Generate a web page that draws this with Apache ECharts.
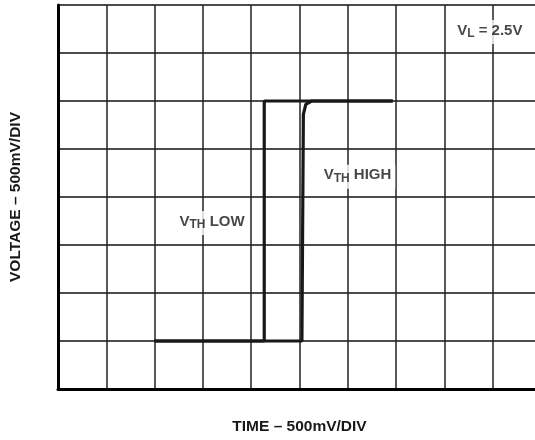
<!DOCTYPE html>
<html>
<head>
<meta charset="utf-8">
<script src="https://cdn.jsdelivr.net/npm/echarts@6/dist/echarts.min.js"></script>
<style>html,body{margin:0;padding:0;background:#fff;}#c{width:535px;height:440px;}</style>
</head>
<body>
<div id="c"></div>
<script>
// Time axis in divisions (0..10), voltage in divisions (0..8)
var xTicks = [0, 10, 1];
var yTicks = [0, 8, 1];
// V_TH LOW trace
var lowTime = [2, 4.27, 4.27, 6.93];
var lowVolt = [1, 1, 6, 6];
// V_TH HIGH trace
var highTime = [2, 5.05, 5.08, 5.13, 5.25, 6.93];
var highVolt = [1, 1, 5.72, 5.93, 6, 6];
// annotation labels
var noteText = ['VL', 'VTH HIGH', 'VTH LOW'];
var noteX = [8.94, 6.2, 3.19];
var noteY = [7.44, 4.42, 3.46];

var FONT = '"Liberation Sans", Arial, sans-serif';
var INK = '#1a1718';

function zip(a, b) { return a.map(function (v, i) { return [v, b[i]]; }); }

var richText = {
  m: { fontFamily: FONT, fontWeight: 'bold', fontSize: 15, color: INK, lineHeight: 18, verticalAlign: 'top' },
  s: { fontFamily: FONT, fontWeight: 'bold', fontSize: 12, color: INK, lineHeight: 18, verticalAlign: 'top', padding: [5, 0, 0, 0] }
};
var formatted = ['{m|V}{s|L}{m| = 2.5V}', '{m|V}{s|TH}{m| HIGH}', '{m|V}{s|TH}{m| LOW}'];

var notes = noteText.map(function (t, i) {
  return { value: [noteX[i], noteY[i]], label: { formatter: formatted[i] } };
});

var chart = echarts.init(document.getElementById('c'), null, { renderer: 'canvas' });
chart.setOption({
  animation: false,
  backgroundColor: '#fff',
  grid: { left: 58, top: 5, width: 483, height: 384, containLabel: false, outerBoundsMode: 'none' },
  xAxis: {
    type: 'value', min: xTicks[0], max: xTicks[1], interval: xTicks[2],
    name: 'TIME – 500mV/DIV', nameLocation: 'middle', nameGap: 30,
    nameTextStyle: { fontFamily: FONT, fontWeight: 'bold', fontSize: 15.5, color: INK },
    axisLine: { show: true, onZero: false, lineStyle: { color: '#000', width: 3 } },
    axisTick: { show: false }, axisLabel: { show: false },
    splitLine: { show: true, lineStyle: { color: '#222', width: 1.5 } }
  },
  yAxis: {
    type: 'value', min: yTicks[0], max: yTicks[1], interval: yTicks[2],
    name: 'VOLTAGE – 500mV/DIV', nameLocation: 'middle', nameGap: 34,
    nameTextStyle: { fontFamily: FONT, fontWeight: 'bold', fontSize: 15.5, color: INK },
    axisLine: { show: true, onZero: false, lineStyle: { color: '#000', width: 3 } },
    axisTick: { show: false }, axisLabel: { show: false },
    splitLine: { show: true, lineStyle: { color: '#111', width: 1.5 } }
  },
  series: [
    { type: 'line', data: zip(lowTime, lowVolt), symbol: 'none', lineStyle: { color: INK, width: 3.2 }, z: 3 },
    { type: 'line', data: zip(highTime, highVolt), symbol: 'none', lineStyle: { color: INK, width: 3.2 }, z: 3 },
    {
      type: 'scatter', data: notes, symbolSize: 0, z: 5,
      label: { show: true, position: 'inside', backgroundColor: '#fff', padding: [3, 4, 3, 4], rich: richText }
    }
  ]
});
</script>
</body>
</html>
